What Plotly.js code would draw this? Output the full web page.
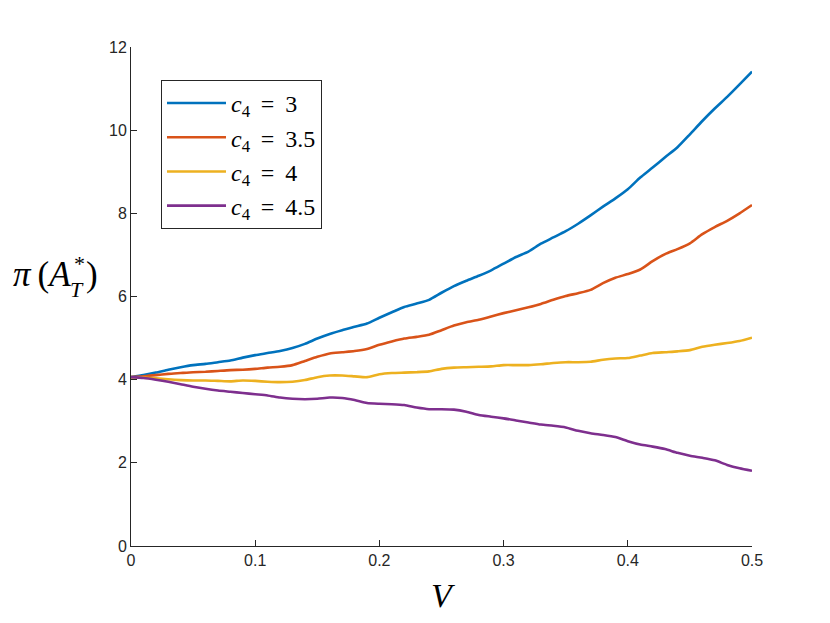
<!DOCTYPE html>
<html>
<head>
<meta charset="utf-8">
<script src="https://cdn.plot.ly/plotly-3.0.1.min.js"></script>
<style>html,body{margin:0;padding:0;background:#fff;}#chart{width:830px;height:623px;}</style>
</head>
<body>
<div id="chart"></div>
<script>
const V = [0.00, 0.01, 0.02, 0.03, 0.04, 0.05, 0.06, 0.07, 0.08, 0.09,
           0.10, 0.11, 0.12, 0.13, 0.14, 0.15, 0.16, 0.17, 0.18, 0.19,
           0.20, 0.21, 0.22, 0.23, 0.24, 0.25, 0.26, 0.27, 0.28, 0.29,
           0.30, 0.31, 0.32, 0.33, 0.34, 0.35, 0.36, 0.37, 0.38, 0.39,
           0.40, 0.41, 0.42, 0.43, 0.44, 0.45, 0.46, 0.47, 0.48, 0.49, 0.50];
const c4_3   = [4.06, 4.11, 4.17, 4.24, 4.30, 4.35, 4.38, 4.42, 4.46, 4.53,
                4.59, 4.64, 4.69, 4.76, 4.86, 4.99, 5.10, 5.19, 5.27, 5.35,
                5.49, 5.62, 5.75, 5.83, 5.92, 6.09, 6.25, 6.38, 6.50, 6.63,
                6.79, 6.95, 7.08, 7.27, 7.42, 7.57, 7.75, 7.95, 8.16, 8.36,
                8.58, 8.86, 9.10, 9.35, 9.59, 9.90, 10.22, 10.52, 10.80, 11.10, 11.41];
const c4_3_5 = [4.06, 4.08, 4.11, 4.14, 4.16, 4.18, 4.19, 4.21, 4.23, 4.24,
                4.26, 4.29, 4.31, 4.35, 4.45, 4.55, 4.63, 4.66, 4.69, 4.74,
                4.84, 4.92, 4.99, 5.03, 5.08, 5.19, 5.30, 5.38, 5.44, 5.52,
                5.60, 5.67, 5.74, 5.82, 5.92, 6.01, 6.08, 6.16, 6.32, 6.45,
                6.54, 6.65, 6.85, 7.02, 7.14, 7.28, 7.50, 7.67, 7.82, 8.00, 8.20];
const c4_4   = [4.06, 4.05, 4.03, 4.01, 3.99, 3.98, 3.98, 3.97, 3.96, 3.98,
                3.97, 3.95, 3.94, 3.95, 3.99, 4.06, 4.10, 4.10, 4.08, 4.06,
                4.13, 4.16, 4.17, 4.18, 4.20, 4.26, 4.29, 4.30, 4.31, 4.32,
                4.35, 4.35, 4.35, 4.37, 4.40, 4.42, 4.42, 4.43, 4.48, 4.51,
                4.52, 4.58, 4.64, 4.66, 4.68, 4.71, 4.79, 4.84, 4.88, 4.93, 5.01];
const c4_4_5 = [4.06, 4.04, 4.00, 3.95, 3.89, 3.83, 3.78, 3.74, 3.71, 3.68,
                3.65, 3.62, 3.57, 3.54, 3.53, 3.54, 3.57, 3.56, 3.51, 3.44,
                3.42, 3.41, 3.39, 3.33, 3.29, 3.29, 3.28, 3.23, 3.15, 3.11,
                3.07, 3.02, 2.97, 2.92, 2.89, 2.85, 2.77, 2.71, 2.67, 2.62,
                2.52, 2.44, 2.39, 2.33, 2.24, 2.17, 2.12, 2.06, 1.95, 1.87, 1.81];
const seriesNames = [
  '<i>c</i><sub>4</sub>\u2009 = \u20093',
  '<i>c</i><sub>4</sub>\u2009 = \u20093.5',
  '<i>c</i><sub>4</sub>\u2009 = \u20094',
  '<i>c</i><sub>4</sub>\u2009 = \u20094.5'
];
const xTicks = [0, 0.1, 0.2, 0.3, 0.4, 0.5];
const xTickText = ['0', '0.1', '0.2', '0.3', '0.4', '0.5'];
const yTicks = [0, 2, 4, 6, 8, 10, 12];
const yTickText = ['0', '2', '4', '6', '8', '10', '12'];
const yLabelParts = ['<i>π</i>\u2009(<i>A</i>', '*', '<i>T</i>', ')'];
const xLabel = '<i>V</i>';

const colors = ['#0072BD', '#D95319', '#EDB120', '#7E2F8E'];
const ys = [c4_3, c4_3_5, c4_4, c4_4_5];
const traces = ys.map((y, i) => ({
  x: V, y: y, type: 'scatter', mode: 'lines', name: seriesNames[i],
  legendgroup: 'g' + i,
  line: {color: colors[i], width: 2.6, shape: 'spline', smoothing: 0.6}
}));

const axisColor = '#262626';
const serif = '"Liberation Serif", "Times New Roman", serif';
// helpers: pixel -> paper coordinates for the label pieces
const L = 131, R = 752, T = 47, B = 546;
const px = v => (v - L) / (R - L);
const py = v => (B - v) / (B - T);

const layout = {
  width: 830, height: 623,
  margin: {l: 131, r: 78, t: 47, b: 77},
  paper_bgcolor: '#fff', plot_bgcolor: '#fff',
  font: {family: '"Liberation Sans", Arial, sans-serif', size: 16, color: axisColor},
  showlegend: true,
  legend: {
    x: 0.0483, y: 0.934, xanchor: 'left', yanchor: 'top',
    bgcolor: '#fff', bordercolor: axisColor, borderwidth: 1,
    font: {family: serif, size: 24, color: '#000'},
    itemwidth: 59,
    tracegroupgap: 0
  },
  xaxis: {
    range: [0, 0.5], tickvals: xTicks, ticktext: xTickText,
    ticks: 'inside', ticklen: 6, tickwidth: 1, tickcolor: axisColor,
    showline: true, linecolor: axisColor, linewidth: 1, mirror: false,
    showgrid: false, zeroline: false,
    tickfont: {size: 16, color: axisColor},
    title: {text: xLabel, font: {family: serif, size: 34, color: '#000'}, standoff: 14}
  },
  yaxis: {
    range: [0, 12], tickvals: yTicks, ticktext: yTickText,
    ticks: 'inside', ticklen: 6, tickwidth: 1, tickcolor: axisColor,
    showline: true, linecolor: axisColor, linewidth: 1, mirror: false,
    showgrid: false, zeroline: false,
    tickfont: {size: 16, color: axisColor},
    title: {text: ''}
  },
  annotations: [
    {xref: 'paper', yref: 'paper', x: px(73), y: py(274), xanchor: 'right', yanchor: 'middle',
     text: yLabelParts[0], showarrow: false, font: {family: serif, size: 35, color: '#000'}},
    {xref: 'paper', yref: 'paper', x: px(79), y: py(263), xanchor: 'center', yanchor: 'middle',
     text: yLabelParts[1], showarrow: false, font: {family: serif, size: 22, color: '#000'}},
    {xref: 'paper', yref: 'paper', x: px(77), y: py(289), xanchor: 'center', yanchor: 'middle',
     text: yLabelParts[2], showarrow: false, font: {family: serif, size: 22, color: '#000'}},
    {xref: 'paper', yref: 'paper', x: px(84), y: py(274), xanchor: 'left', yanchor: 'middle',
     text: yLabelParts[3], showarrow: false, font: {family: serif, size: 35, color: '#000'}}
  ]
};

Plotly.newPlot('chart', traces, layout, {displayModeBar: false, staticPlot: true});
</script>
</body>
</html>
